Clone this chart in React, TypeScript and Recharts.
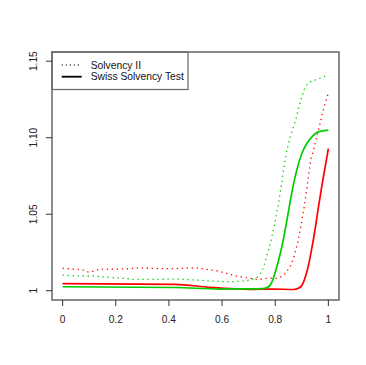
import React from "react";
import { LineChart, Line, XAxis, YAxis, ReferenceArea } from "recharts";

// Solvency II (dotted) – red series
const siiRedX = [0, 0.04, 0.078, 0.097, 0.115, 0.142, 0.179, 0.217, 0.255, 0.292, 0.33, 0.367, 0.405, 0.454, 0.503, 0.529, 0.578, 0.616, 0.653, 0.706, 0.736, 0.766, 0.804, 0.83, 0.856, 0.871, 0.886, 0.899, 0.912, 0.924, 0.935, 0.944, 0.956, 0.969, 0.977, 0.988, 1.0];
const siiRedY = [1.0146, 1.0142, 1.0135, 1.0122, 1.0127, 1.0142, 1.014, 1.0142, 1.0144, 1.015, 1.0146, 1.0144, 1.0144, 1.0146, 1.015, 1.0142, 1.0131, 1.0114, 1.0096, 1.0081, 1.0073, 1.008, 1.0081, 1.0096, 1.0155, 1.0227, 1.0324, 1.0448, 1.0579, 1.0736, 1.0866, 1.0918, 1.1005, 1.1093, 1.1158, 1.1223, 1.1293];

// Solvency II (dotted) – green series
const siiGreenX = [0, 0.04, 0.078, 0.115, 0.153, 0.191, 0.229, 0.266, 0.341, 0.416, 0.454, 0.503, 0.555, 0.604, 0.653, 0.687, 0.706, 0.73, 0.749, 0.762, 0.773, 0.786, 0.8, 0.812, 0.825, 0.831, 0.844, 0.856, 0.875, 0.891, 0.9, 0.912, 0.929, 0.947, 0.965, 0.985, 1.0];
const siiGreenY = [1.0102, 1.0098, 1.0096, 1.0096, 1.0091, 1.0085, 1.0081, 1.0074, 1.0074, 1.0076, 1.0074, 1.007, 1.0063, 1.006, 1.006, 1.0063, 1.0071, 1.0083, 1.0124, 1.0187, 1.0256, 1.0341, 1.0455, 1.0566, 1.071, 1.0788, 1.0918, 1.1005, 1.1103, 1.1212, 1.1266, 1.1332, 1.1364, 1.1375, 1.1386, 1.1401, 1.1408];

// Swiss Solvency Test (solid) – red series
const sstRedX = [0, 0.424, 0.555, 0.706, 0.792, 0.87, 0.887, 0.898, 0.906, 0.915, 0.925, 0.938, 0.95, 0.962, 0.975, 0.988, 1.0];
const sstRedY = [1.0046, 1.0042, 1.0022, 1.0009, 1.0011, 1.0008, 1.0016, 1.003, 1.0055, 1.01, 1.0165, 1.028, 1.04, 1.054, 1.068, 1.081, 1.0929];

// Swiss Solvency Test (solid) – green series
const sstGreenX = [0, 0.424, 0.593, 0.668, 0.751, 0.768, 0.787, 0.806, 0.825, 0.844, 0.862, 0.881, 0.9, 0.919, 0.938, 0.962, 1.0];
const sstGreenY = [1.0026, 1.0021, 1.0011, 1.0012, 1.0014, 1.0019, 1.0055, 1.0157, 1.0287, 1.0461, 1.0636, 1.0788, 1.0897, 1.0962, 1.1005, 1.1038, 1.1049];

const xTicks = [0, 0.2, 0.4, 0.6, 0.8, 1];
const xTickLabels = ["0", "0.2", "0.4", "0.6", "0.8", "1"];
const yTicks = [1, 1.05, 1.1, 1.15];
const yTickLabels = ["1", "1.05", "1.10", "1.15"];
const legendLabels = ["Solvency II", "Swiss Solvency Test"];

const xDomain: [number, number] = [-0.04, 1.04];
const yDomain: [number, number] = [0.99393, 1.15601];

const toPoints = (xs: number[], ys: number[]) => xs.map((x, i) => ({ x, y: ys[i] }));

const RED = "#FF0000";
const GREEN = "#00CD00";
const FONT = "'Liberation Sans', Arial, Helvetica, sans-serif";
const DOT_DASH = "1.3 3.7";

const XTick = (props: any) => {
  const { x, y, payload } = props;
  const idx = xTicks.indexOf(payload.value);
  return (
    <text x={x} y={y + 14.6} textAnchor="middle" fontSize={10.2} fontFamily={FONT} fill="#222">
      {idx >= 0 ? xTickLabels[idx] : payload.value}
    </text>
  );
};

const YTick = (props: any) => {
  const { x, y, payload } = props;
  const idx = yTicks.indexOf(payload.value);
  const bx = x - 7.3;
  return (
    <text x={bx} y={y} transform={`rotate(-90 ${bx} ${y})`} textAnchor="middle" fontSize={10.2} fontFamily={FONT} fill="#222">
      {idx >= 0 ? yTickLabels[idx] : payload.value}
    </text>
  );
};

const LegendBox = () => (
  <g>
    <rect x={44} y={44} width={136} height={37.5} fill="#fff" stroke="#666" strokeWidth={1.2} />
    <line x1={53.7} x2={73.7} y1={57} y2={57} stroke="#000" strokeWidth={1.2} strokeDasharray="1.2 2.8" />
    <line x1={53.7} x2={73.7} y1={68.7} y2={68.7} stroke="#000" strokeWidth={1.8} />
    <text x={82.7} y={60.6} fontSize={10.3} fontFamily={FONT} fill="#111">{legendLabels[0]}</text>
    <text x={82.7} y={72.3} fontSize={10.3} fontFamily={FONT} fill="#111">{legendLabels[1]}</text>
  </g>
);

export default function App() {
  return (
    <LineChart width={358} height={357} margin={{ top: 44, right: 27, left: 0, bottom: 0 }}>
      <XAxis
        type="number"
        dataKey="x"
        domain={xDomain}
        ticks={xTicks}
        allowDataOverflow
        height={65}
        axisLine={false}
        tickSize={6}
        tickLine={{ stroke: "#333" }}
        tick={<XTick />}
        interval={0}
      />
      <YAxis
        type="number"
        dataKey="y"
        domain={yDomain}
        ticks={yTicks}
        allowDataOverflow
        width={44}
        axisLine={false}
        tickSize={6}
        tickLine={{ stroke: "#333" }}
        tick={<YTick />}
        interval={0}
      />
      <ReferenceArea x1={xDomain[0]} x2={xDomain[1]} y1={yDomain[0]} y2={yDomain[1]} fill="none" stroke="#666" strokeWidth={1.5} fillOpacity={0} />
      <Line data={toPoints(siiRedX, siiRedY)} dataKey="y" type="linear" stroke={RED} strokeWidth={1.3} strokeDasharray={DOT_DASH} dot={false} isAnimationActive={false} />
      <Line data={toPoints(siiGreenX, siiGreenY)} dataKey="y" type="linear" stroke={GREEN} strokeWidth={1.3} strokeDasharray={DOT_DASH} dot={false} isAnimationActive={false} />
      <Line data={toPoints(sstRedX, sstRedY)} dataKey="y" type="monotone" stroke={RED} strokeWidth={1.7} dot={false} isAnimationActive={false} />
      <Line data={toPoints(sstGreenX, sstGreenY)} dataKey="y" type="monotone" stroke={GREEN} strokeWidth={1.7} dot={false} isAnimationActive={false} />
      <LegendBox />
    </LineChart>
  );
}
